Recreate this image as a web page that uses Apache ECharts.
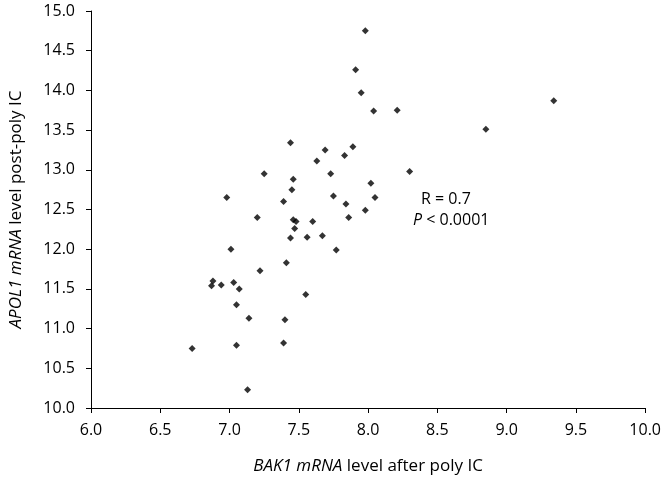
<!DOCTYPE html>
<html>
<head>
<meta charset="utf-8">
<script src="https://cdn.jsdelivr.net/npm/echarts@6/dist/echarts.min.js"></script>
<style>html,body{margin:0;padding:0;background:#fff}#c{width:664px;height:480px}</style>
</head>
<body>
<div id="c"></div>
<script>
// BAK1 mRNA level after poly IC (x)
var bak1 = [7.98, 7.91, 7.95, 8.04, 8.21, 9.34, 8.85, 7.44, 7.69, 7.89,
            7.83, 7.63, 7.25, 7.73, 8.30, 7.46, 8.02, 7.45, 6.98, 7.75,
            8.05, 7.39, 7.84, 7.98, 7.20, 7.86, 7.46, 7.48, 7.60, 7.47,
            7.44, 7.56, 7.67, 7.01, 7.77, 7.41, 7.22, 6.88, 6.87, 6.94,
            7.03, 7.07, 7.55, 7.05, 7.14, 7.40, 6.73, 7.05, 7.39, 7.13];
// APOL1 mRNA level post-poly IC (y)
var apol1 = [14.75, 14.26, 13.97, 13.74, 13.75, 13.87, 13.51, 13.34, 13.25, 13.29,
             13.18, 13.11, 12.95, 12.95, 12.98, 12.88, 12.83, 12.75, 12.65, 12.67,
             12.65, 12.60, 12.57, 12.49, 12.40, 12.40, 12.37, 12.35, 12.35, 12.26,
             12.14, 12.15, 12.17, 12.00, 11.99, 11.83, 11.73, 11.60, 11.54, 11.55,
             11.58, 11.50, 11.43, 11.30, 11.13, 11.11, 10.75, 10.79, 10.82, 10.23];
var xTicks = {min: 6.0, max: 10.0, step: 0.5};
var yTicks = {min: 10.0, max: 15.0, step: 0.5};
var annotation = ['R = 0.7', '{i|P} < 0.0001'];

var pts = bak1.map(function (x, i) { return [x, apol1[i]]; });
var FONT = 'Open Sans';
var chart = echarts.init(document.getElementById('c'));
chart.setOption({
  animation: false,
  backgroundColor: '#fff',
  grid: {left: 88, right: 18, top: 11, bottom: 69},
  xAxis: {
    type: 'value', min: xTicks.min, max: xTicks.max, interval: xTicks.step,
    name: '{i|BAK1 mRNA} level after poly IC',
    nameLocation: 'middle', nameGap: 50,
    nameTextStyle: {fontFamily: FONT, fontSize: 17, color: '#000',
      rich: {i: {fontFamily: FONT, fontSize: 17, fontStyle: 'italic', color: '#000'}}},
    axisLine: {show: true, onZero: false, lineStyle: {color: '#000', width: 1}},
    axisTick: {show: true, inside: false, length: 5, lineStyle: {color: '#000'}},
    axisLabel: {fontFamily: FONT, fontSize: 16, color: '#000', margin: 14,
      formatter: function (v) { return v.toFixed(1); }},
    splitLine: {show: false}
  },
  yAxis: {
    type: 'value', min: yTicks.min, max: yTicks.max, interval: yTicks.step,
    name: '{i|APOL1 mRNA} level post-poly IC',
    nameLocation: 'middle', nameGap: 66, nameRotate: 90,
    nameTextStyle: {fontFamily: FONT, fontSize: 17, color: '#000',
      rich: {i: {fontFamily: FONT, fontSize: 17, fontStyle: 'italic', color: '#000'}}},
    axisLine: {show: true, onZero: false, lineStyle: {color: '#000', width: 1}},
    axisTick: {show: true, inside: false, length: 5, lineStyle: {color: '#000'}},
    axisLabel: {fontFamily: FONT, fontSize: 16, color: '#000', margin: 16,
      formatter: function (v) { return v.toFixed(1); }},
    splitLine: {show: false}
  },
  graphic: [
    {type: 'text', left: 421, top: 191,
     style: {text: annotation[0], font: '16px "Open Sans"', fill: '#000'}},
    {type: 'text', left: 413, top: 212,
     style: {text: annotation[1], font: '16px "Open Sans"', fill: '#000',
       rich: {i: {fontStyle: 'italic', fontFamily: FONT, fontSize: 16, fill: '#000'}}}}
  ],
  series: [{
    type: 'scatter', data: pts, symbol: 'diamond', symbolSize: 7,
    itemStyle: {color: '#000'}
  }]
});
</script>
</body>
</html>
